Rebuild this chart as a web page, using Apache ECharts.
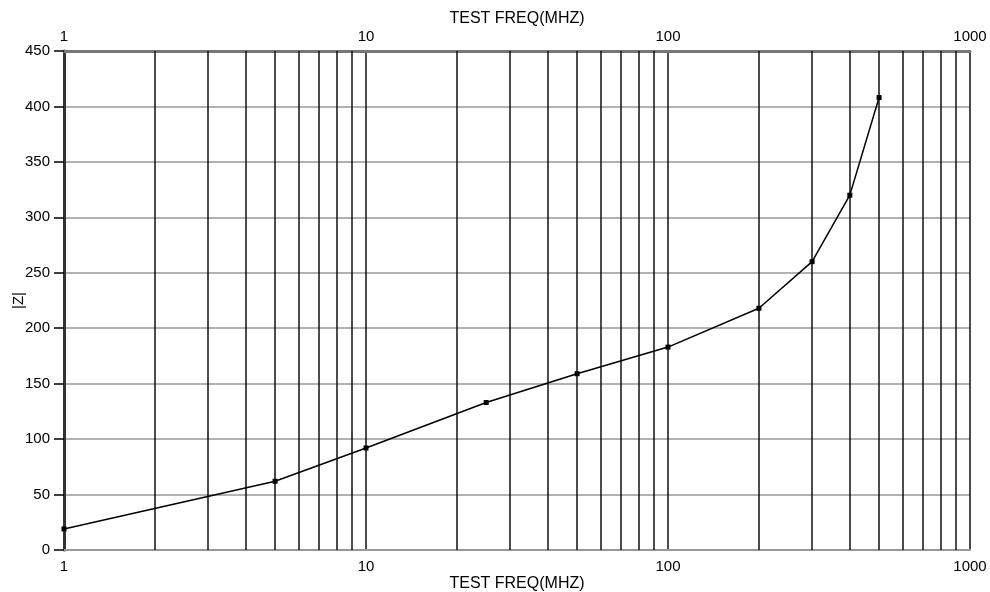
<!DOCTYPE html>
<html>
<head>
<meta charset="utf-8">
<script src="https://cdn.jsdelivr.net/npm/echarts@6/dist/echarts.min.js"></script>
<style>
html,body{margin:0;padding:0;background:#fff;}
#c{width:990px;height:592px;}
</style>
</head>
<body>
<div id="c"></div>
<script>
var freqs = [1, 5, 10, 25, 50, 100, 200, 300, 400, 500];
var impedance = [19, 62, 92, 133, 159, 183, 218, 260, 320, 408];
var minorFreqs = [2,3,4,5,6,7,8,9,20,30,40,50,60,70,80,90,200,300,400,500,600,700,800,900];
var xName = 'TEST FREQ(MHZ)';
var yName = '|Z|';

var chart = echarts.init(document.getElementById('c'));
var font = 'Liberation Sans, Arial, sans-serif';
var pts = freqs.map(function(f,i){return [f, impedance[i]];});
var fmt = function(v){ return String(Math.round(v)); };
chart.setOption({
  animation: false,
  backgroundColor: '#fff',
  grid: {left: 64, right: 20, top: 51, bottom: 42, containLabel: false, outerBoundsMode: 'none'},
  xAxis: [{
    type: 'log', logBase: 10, min: 1, max: 1000, position: 'bottom',
    name: xName, nameLocation: 'middle', nameGap: 26, nameMoveOverlap: false,
    nameTextStyle: {fontFamily: font, fontSize: 16, color: '#000'},
    axisLine: {show: true, lineStyle: {color: '#999', width: 2}},
    axisTick: {show: false},
    axisLabel: {fontFamily: font, fontSize: 15, color: '#000', margin: 9, showMinLabel: true, showMaxLabel: true, formatter: fmt},
    splitLine: {show: true, lineStyle: {color: '#111', width: 1.5}},
    minorSplitLine: {show: false}
  }, {
    type: 'log', logBase: 10, min: 1, max: 1000, position: 'top',
    name: xName, nameLocation: 'middle', nameGap: 24, nameMoveOverlap: false,
    nameTextStyle: {fontFamily: font, fontSize: 16, color: '#000'},
    axisLine: {show: true, lineStyle: {color: '#777', width: 3}},
    axisTick: {show: false},
    axisLabel: {fontFamily: font, fontSize: 15, color: '#000', margin: 7, showMinLabel: true, showMaxLabel: true, formatter: fmt},
    splitLine: {show: false}
  }],
  yAxis: {
    type: 'value', min: 0, max: 450, interval: 50,
    name: yName, nameLocation: 'middle', nameGap: 38, nameRotate: 90, nameMoveOverlap: false,
    nameTextStyle: {fontFamily: font, fontSize: 15, color: '#000'},
    axisLine: {show: true, lineStyle: {color: '#333', width: 3}},
    axisTick: {show: true, length: 10, lineStyle: {color: '#000', width: 1.5}},
    axisLabel: {fontFamily: font, fontSize: 15, color: '#000', margin: 14},
    splitLine: {show: true, lineStyle: {color: '#999', width: 1.5}}
  },
  series: [{
    type: 'line', xAxisIndex: 0, data: pts,
    symbol: 'rect', symbolSize: 5, showSymbol: true,
    lineStyle: {color: '#000', width: 1.5},
    itemStyle: {color: '#000'},
    z: 5,
    markLine: {
      silent: true, symbol: 'none', animation: false,
      label: {show: false},
      lineStyle: {color: '#111', width: 1.5, type: 'solid'},
      data: minorFreqs.map(function(v){return {xAxis: v};})
    }
  }]
});
</script>
</body>
</html>
